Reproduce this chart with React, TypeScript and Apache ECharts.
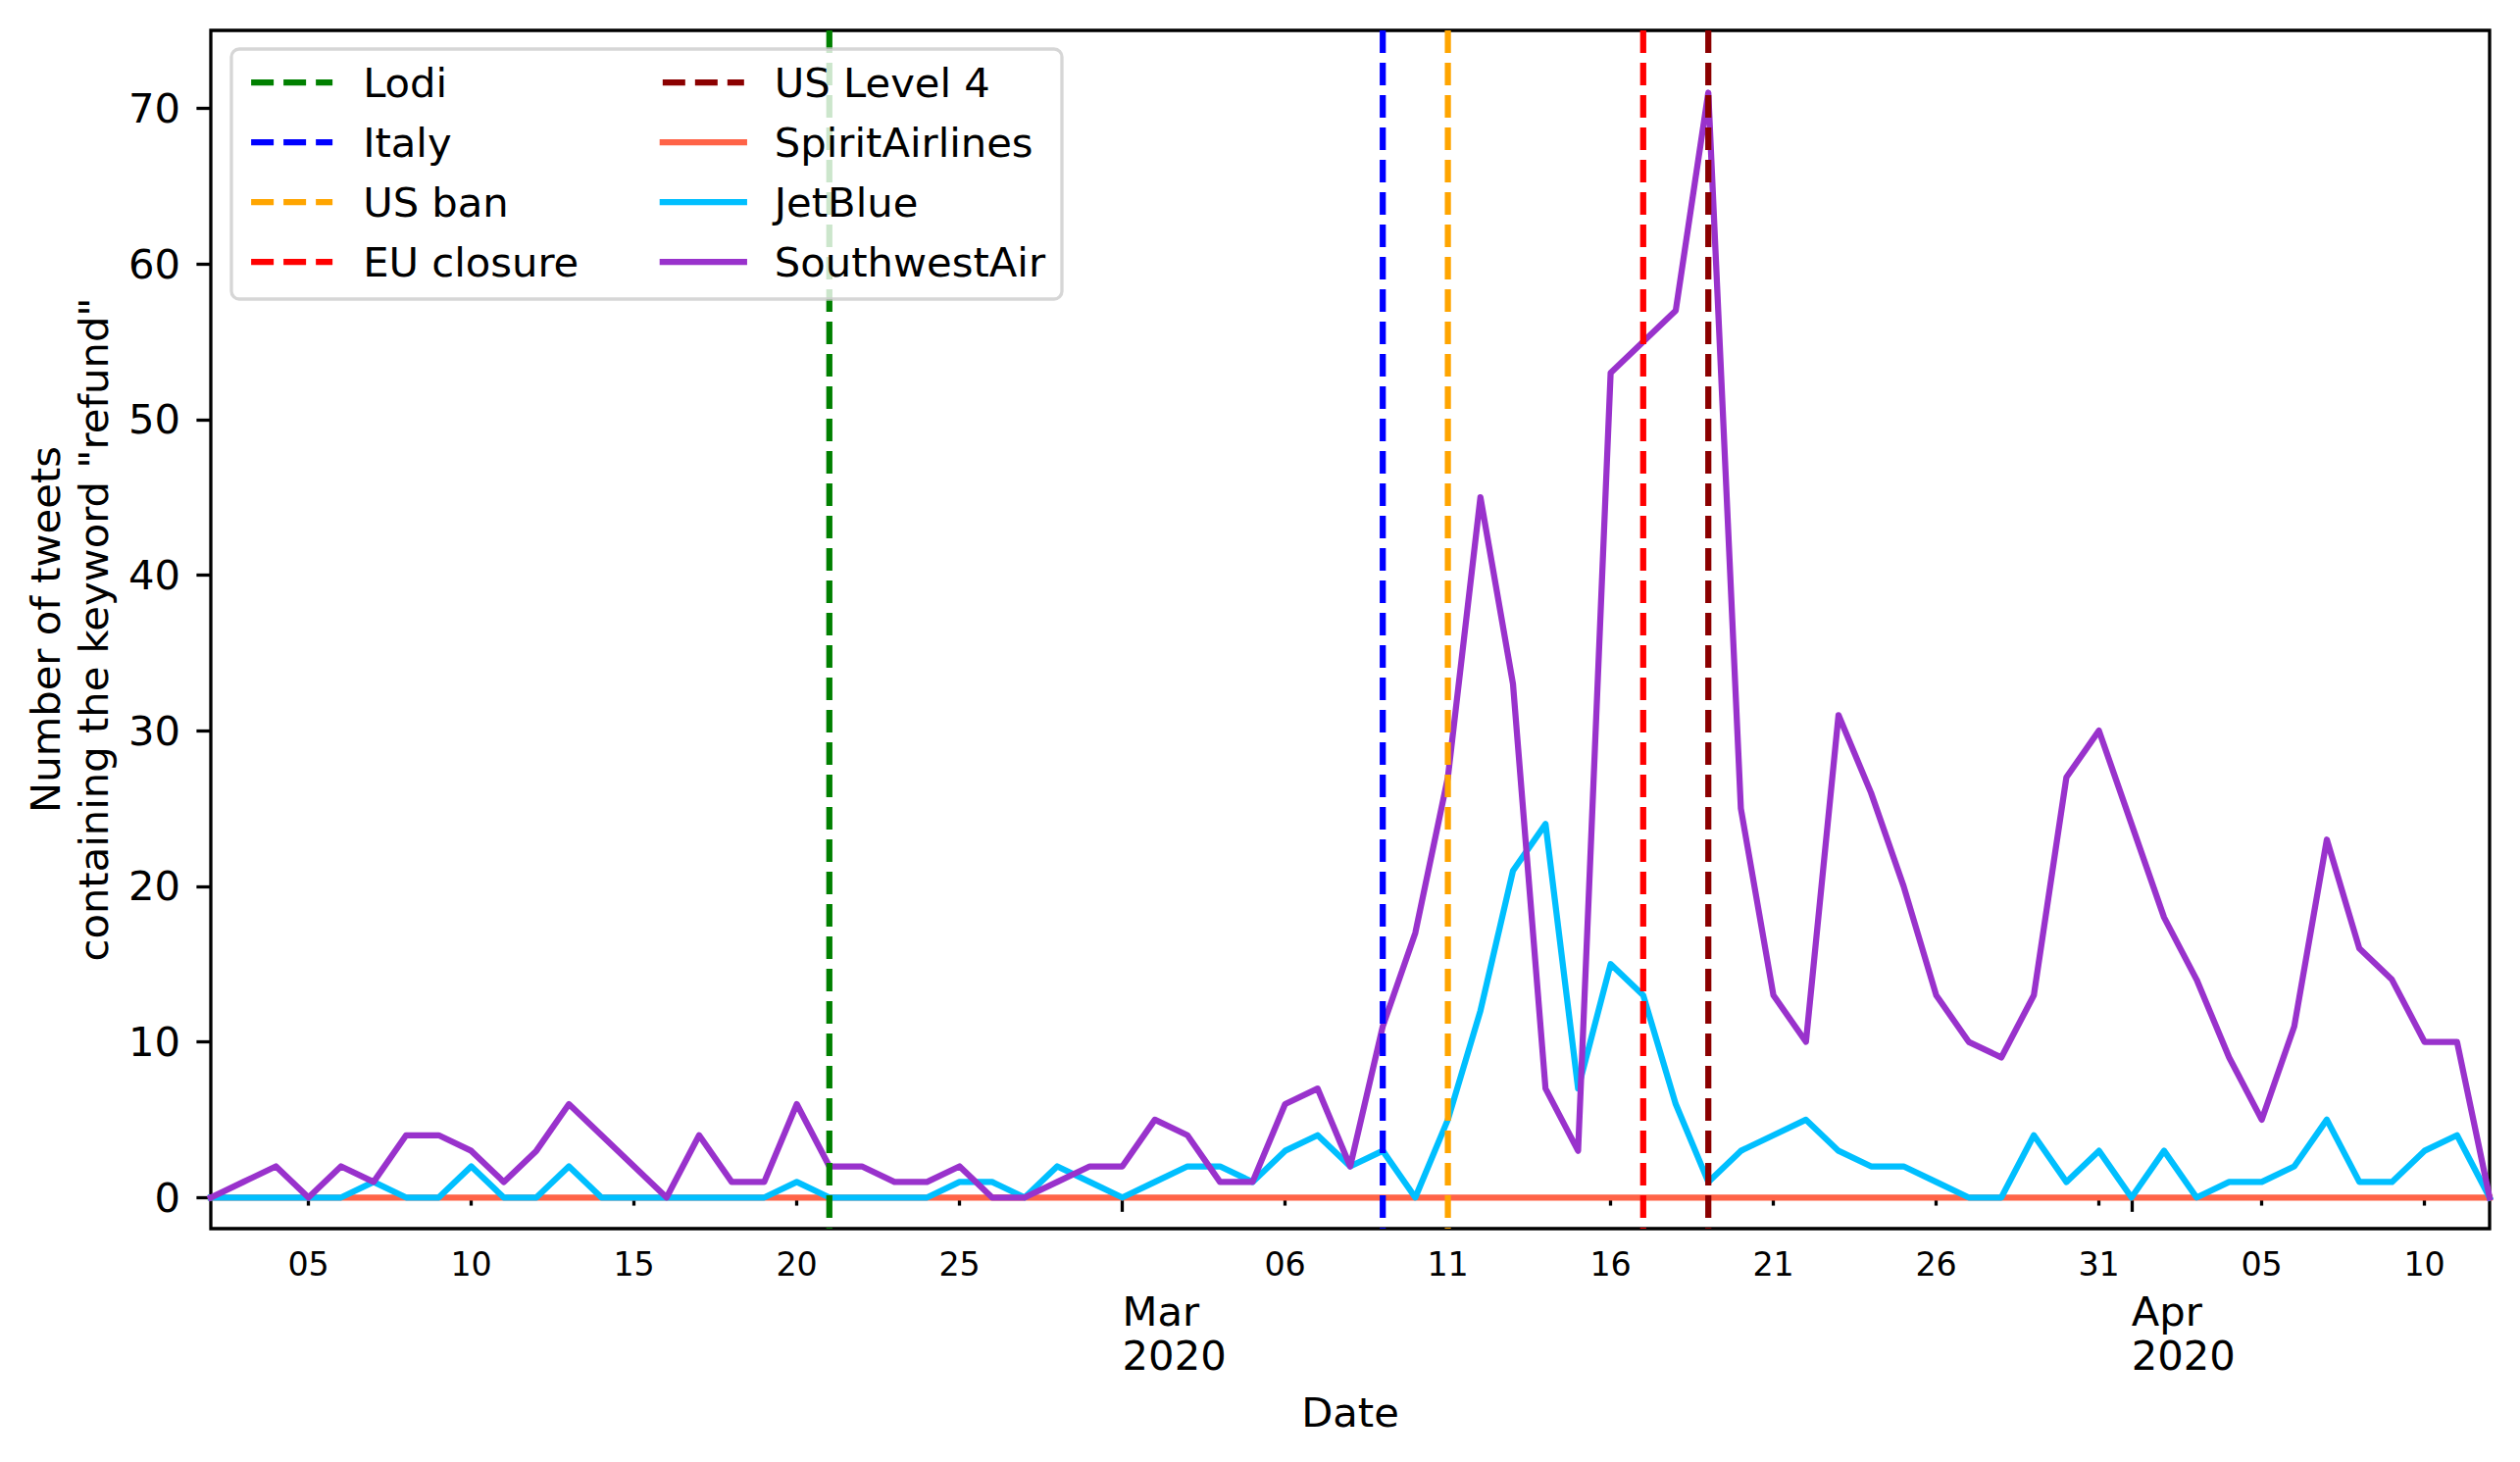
import React, { useEffect, useRef } from 'react';
import * as echarts from 'echarts';

const dates = [
  '2020-02-02', '2020-02-03', '2020-02-04', '2020-02-05', '2020-02-06', '2020-02-07', '2020-02-08',
  '2020-02-09', '2020-02-10', '2020-02-11', '2020-02-12', '2020-02-13', '2020-02-14', '2020-02-15',
  '2020-02-16', '2020-02-17', '2020-02-18', '2020-02-19', '2020-02-20', '2020-02-21', '2020-02-22',
  '2020-02-23', '2020-02-24', '2020-02-25', '2020-02-26', '2020-02-27', '2020-02-28', '2020-02-29',
  '2020-03-01', '2020-03-02', '2020-03-03', '2020-03-04', '2020-03-05', '2020-03-06', '2020-03-07',
  '2020-03-08', '2020-03-09', '2020-03-10', '2020-03-11', '2020-03-12', '2020-03-13', '2020-03-14',
  '2020-03-15', '2020-03-16', '2020-03-17', '2020-03-18', '2020-03-19', '2020-03-20', '2020-03-21',
  '2020-03-22', '2020-03-23', '2020-03-24', '2020-03-25', '2020-03-26', '2020-03-27', '2020-03-28',
  '2020-03-29', '2020-03-30', '2020-03-31', '2020-04-01', '2020-04-02', '2020-04-03', '2020-04-04',
  '2020-04-05', '2020-04-06', '2020-04-07', '2020-04-08', '2020-04-09', '2020-04-10', '2020-04-11',
  '2020-04-12',
];

const spiritAirlines = [
  0, 0, 0, 0, 0, 0, 0, 0, 0, 0, 0, 0, 0, 0, 0, 0, 0, 0, 0, 0, 0, 0, 0, 0, 0, 0, 0, 0,
  0, 0, 0, 0, 0, 0, 0, 0, 0, 0, 0, 0, 0, 0, 0, 0, 0, 0, 0, 0, 0, 0, 0, 0, 0, 0, 0, 0,
  0, 0, 0, 0, 0, 0, 0, 0, 0, 0, 0, 0, 0, 0, 0,
];

const jetBlue = [
  0, 0, 0, 0, 0, 1, 0, 0, 2, 0, 0, 2, 0, 0, 0, 0, 0, 0, 1, 0, 0, 0, 0, 1, 1, 0, 2, 1,
  0, 1, 2, 2, 1, 3, 4, 2, 3, 0, 5, 12, 21, 24, 7, 15, 13, 6, 1, 3, 4, 5, 3, 2, 2, 1, 0, 0,
  4, 1, 3, 0, 3, 0, 1, 1, 2, 5, 1, 1, 3, 4, 0,
];

const southwestAir = [
  0, 1, 2, 0, 2, 1, 4, 4, 3, 1, 3, 6, 4, 2, 0, 4, 1, 1, 6, 2, 2, 1, 1, 2, 0, 0, 1, 2,
  2, 5, 4, 1, 1, 6, 7, 2, 11, 17, 27, 45, 33, 7, 3, 53, 55, 57, 71, 25, 13, 10, 31, 26, 20, 13, 10, 9,
  13, 27, 30, 24, 18, 14, 9, 5, 11, 23, 16, 14, 10, 10, 0,
];

const airlineNames = ['SpiritAirlines', 'JetBlue', 'SouthwestAir'];
const airlineColors = ['#ff6347', '#00bfff', '#9932cc'];
const airlineValues = [spiritAirlines, jetBlue, southwestAir];

const eventNames = ['Lodi', 'Italy', 'US ban', 'EU closure', 'US Level 4'];
const eventDates = ['2020-02-21', '2020-03-09', '2020-03-11', '2020-03-17', '2020-03-19'];
const eventColors = ['#008000', '#0000ff', '#ffa500', '#ff0000', '#8b0000'];

const minorTickDates = [
  '2020-02-05', '2020-02-10', '2020-02-15', '2020-02-20', '2020-02-25',
  '2020-03-06', '2020-03-11', '2020-03-16', '2020-03-21', '2020-03-26', '2020-03-31',
  '2020-04-05', '2020-04-10',
];
const minorTickLabels = ['05', '10', '15', '20', '25', '06', '11', '16', '21', '26', '31', '05', '10'];
const majorTickDates = ['2020-03-01', '2020-04-01'];
const majorTickLabels = ['Mar\n2020', 'Apr\n2020'];

const yTicks = [0, 10, 20, 30, 40, 50, 60, 70];
const yMin = -2;
const yMax = 75;

const FONT = 'DejaVu Sans';

export default function App() {
  const ref = useRef<HTMLDivElement>(null);

  useEffect(() => {
    if (!ref.current) return;
    const chart = echarts.init(ref.current, undefined, { renderer: 'svg' });

    const minorMap: Record<string, string> = {};
    minorTickDates.forEach((d, i) => (minorMap[d] = minorTickLabels[i]));
    const majorMap: Record<string, string> = {};
    majorTickDates.forEach((d, i) => (majorMap[d] = majorTickLabels[i]));

    const gridBox = { left: 215, top: 31, width: 2324, height: 1222 };
    const tickLine = { color: '#000', width: 3.3 };

    const series: any[] = [];
    airlineNames.forEach((name, i) => {
      series.push({
        type: 'line',
        name,
        data: airlineValues[i],
        xAxisIndex: 0,
        yAxisIndex: 0,
        symbol: 'none',
        silent: true,
        z: 2,
        lineStyle: { color: airlineColors[i], width: 6.25, join: 'round', cap: 'square' },
        itemStyle: { color: airlineColors[i] },
      });
    });
    eventNames.forEach((name, i) => {
      series.push({
        type: 'line',
        name,
        data: [
          [eventDates[i], yMax],
          [eventDates[i], yMin],
        ],
        xAxisIndex: 0,
        yAxisIndex: 0,
        symbol: 'none',
        silent: true,
        z: 3,
        lineStyle: { color: eventColors[i], width: 6.25, type: [23, 10], cap: 'butt' },
        itemStyle: { color: eventColors[i] },
      });
    });

    const legendCommon = {
      orient: 'vertical',
      top: 59,
      padding: 0,
      itemWidth: 83,
      itemHeight: 50,
      itemGap: 11,
      selectedMode: false,
      z: 12,
      itemStyle: { opacity: 0 },
      lineStyle: { width: 6.25 },
      textStyle: {
        fontSize: 41.7,
        lineHeight: 50,
        color: '#000',
        fontFamily: FONT,
        padding: [0, 0, 0, 26],
      },
    };

    chart.setOption({
      animation: false,
      backgroundColor: '#ffffff',
      textStyle: { fontFamily: FONT },
      grid: [
        { ...gridBox, show: true, borderColor: '#000', borderWidth: 3.3, backgroundColor: 'transparent' },
        { ...gridBox, show: false },
      ],
      xAxis: [
        {
          type: 'category',
          gridIndex: 0,
          data: dates,
          boundaryGap: false,
          axisLine: { show: false },
          splitLine: { show: false },
          axisTick: {
            show: true,
            interval: (_i: number, v: string) => v in minorMap,
            length: 8.3,
            lineStyle: tickLine,
          },
          axisLabel: {
            interval: (_i: number, v: string) => v in minorMap,
            formatter: (v: string) => minorMap[v] || '',
            fontSize: 33.3,
            color: '#000',
            fontFamily: FONT,
            margin: 20,
          },
          name: 'Date',
          nameLocation: 'middle',
          nameGap: 166,
          nameTextStyle: { fontSize: 41.7, color: '#000', fontFamily: FONT },
        },
        {
          type: 'category',
          gridIndex: 1,
          data: dates,
          boundaryGap: false,
          axisLine: { show: false },
          splitLine: { show: false },
          axisTick: {
            show: true,
            interval: (_i: number, v: string) => v in majorMap,
            length: 14.6,
            lineStyle: tickLine,
          },
          axisLabel: {
            interval: (_i: number, v: string) => v in majorMap,
            formatter: (v: string) => majorMap[v] || '',
            fontSize: 41.7,
            lineHeight: 45,
            align: 'left',
            color: '#000',
            fontFamily: FONT,
            margin: 62,
          },
        },
      ],
      yAxis: [
        {
          type: 'value',
          gridIndex: 0,
          min: yMin,
          max: yMax,
          axisLine: { show: false },
          splitLine: { show: false },
          axisTick: { show: true, customValues: yTicks, length: 14.6, lineStyle: tickLine },
          axisLabel: { customValues: yTicks, fontSize: 41.7, color: '#000', fontFamily: FONT, margin: 31 },
          name: 'Number of tweets\ncontaining the keyword "refund"',
          nameLocation: 'middle',
          nameRotate: 90,
          nameGap: 95,
          nameTextStyle: { fontSize: 41.7, lineHeight: 49, color: '#000', fontFamily: FONT, align: 'center' },
        },
        { type: 'value', gridIndex: 1, min: yMin, max: yMax, show: false },
      ],
      legend: [
        { ...legendCommon, left: 253, data: eventNames.slice(0, 4) },
        { ...legendCommon, left: 672.7, data: [eventNames[4], ...airlineNames] },
      ],
      graphic: [
        {
          type: 'rect',
          z: 10,
          silent: true,
          shape: { x: 236, y: 50, width: 847, height: 255, r: 8 },
          style: { fill: 'rgba(255,255,255,0.8)', stroke: 'rgba(204,204,204,0.8)', lineWidth: 3.3 },
        },
      ],
      series,
    });

    return () => chart.dispose();
  }, []);

  return (
    <div
      ref={ref}
      style={{ position: 'absolute', left: 0, top: 0, width: 2570, height: 1491, background: '#fff' }}
    />
  );
}
